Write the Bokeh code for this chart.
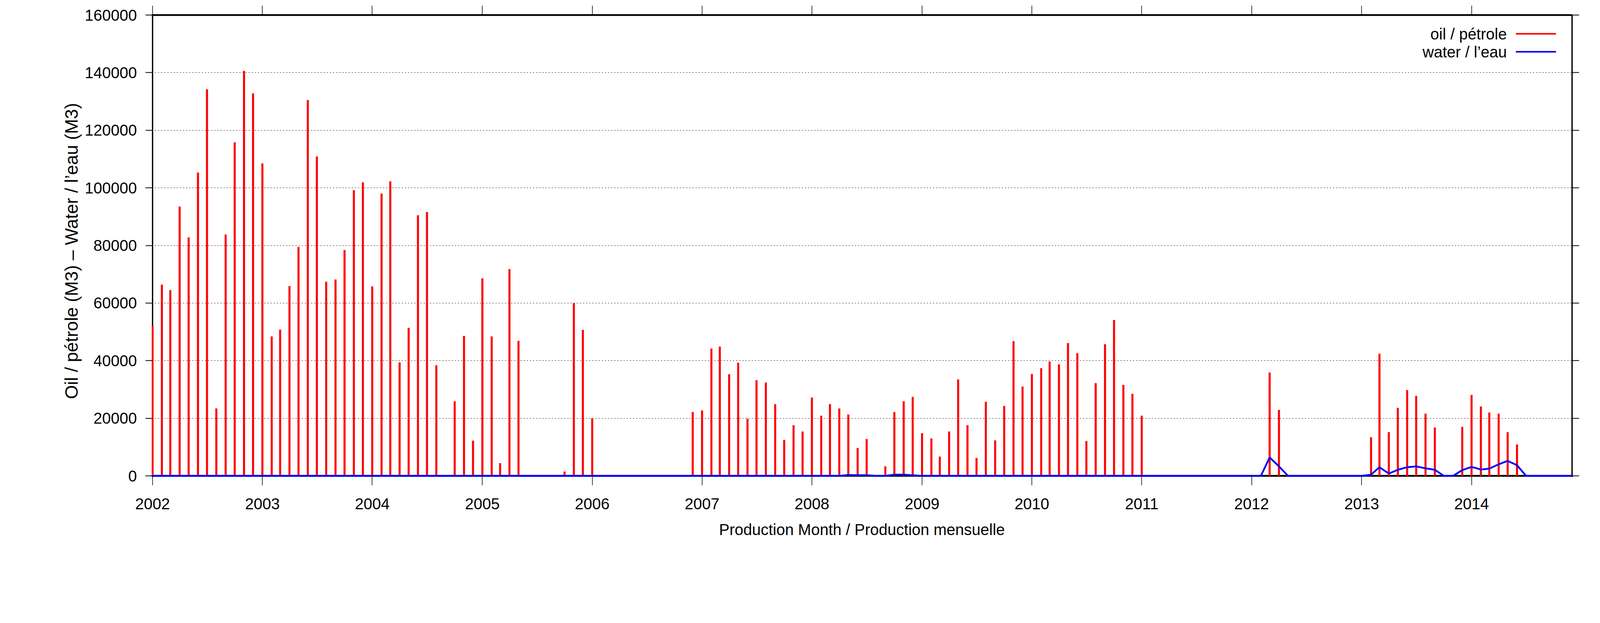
from datetime import datetime
import pandas as pd
from bokeh.plotting import figure
from bokeh.models import (ColumnDataSource, Range1d, FixedTicker, DatetimeAxis, LinearAxis,
                          DatetimeTickFormatter, NumeralTickFormatter, Span, Label,
                          BoxAnnotation)
from bokeh.embed import file_html
from bokeh.resources import INLINE

# ---------------- data (monthly volumes, M3) ----------------
years = [2002, 2003, 2004, 2005, 2006, 2007, 2008, 2009, 2010, 2011, 2012, 2013, 2014]

oil_2002 = [52000, 66400, 64500, 93500, 82800, 105300, 134200, 23400, 83800, 115800, 140600, 132800]
oil_2003 = [108500, 48400, 50800, 65900, 79500, 130500, 110900, 67400, 68200, 78400, 99200, 101900]
oil_2004 = [65800, 98000, 102300, 39400, 51400, 90500, 91600, 38400, 0, 25900, 48600, 12200]
oil_2005 = [68600, 48400, 4400, 71800, 46900, 0, 0, 0, 0, 1500, 59900, 50700]
oil_2006 = [20000, 0, 0, 0, 0, 0, 0, 0, 0, 0, 0, 22200]
oil_2007 = [22700, 44200, 44900, 35300, 39300, 19800, 33200, 32400, 24900, 12500, 17600, 15400]
oil_2008 = [27200, 20900, 24900, 23400, 21300, 9700, 12800, 0, 3300, 22200, 25900, 27400]
oil_2009 = [14800, 13000, 6700, 15400, 33500, 17600, 6200, 25700, 12300, 24300, 46800, 31000]
oil_2010 = [35400, 37400, 39700, 38700, 46100, 42600, 12100, 32200, 45700, 54100, 31600, 28500]
oil_2011 = [20900, 0, 0, 0, 0, 0, 0, 0, 0, 0, 0, 0]
oil_2012 = [0, 0, 35900, 22900, 0, 0, 0, 0, 0, 0, 0, 0]
oil_2013 = [0, 13400, 42400, 15200, 23600, 29800, 27800, 21600, 16800, 0, 0, 17000]
oil_2014 = [28100, 24100, 22000, 21600, 15200, 10900, 0, 0, 0, 0, 0, 0]

water_2002 = [0, 0, 0, 0, 0, 0, 0, 0, 0, 0, 0, 0]
water_2003 = [0, 0, 0, 0, 0, 0, 0, 0, 0, 0, 0, 0]
water_2004 = [0, 0, 0, 0, 0, 0, 0, 0, 0, 0, 0, 0]
water_2005 = [0, 0, 0, 0, 0, 0, 0, 0, 0, 0, 0, 0]
water_2006 = [0, 0, 0, 0, 0, 0, 0, 0, 0, 0, 0, 0]
water_2007 = [0, 0, 0, 0, 0, 0, 0, 0, 0, 0, 0, 0]
water_2008 = [0, 0, 0, 0, 300, 250, 250, 0, 0, 400, 400, 200]
water_2009 = [0, 0, 0, 0, 0, 0, 0, 0, 0, 0, 0, 0]
water_2010 = [0, 0, 0, 0, 0, 0, 0, 0, 0, 0, 0, 0]
water_2011 = [0, 0, 0, 0, 0, 0, 0, 0, 0, 0, 0, 0]
water_2012 = [0, 0, 6400, 3300, 0, 0, 0, 0, 0, 0, 0, 0]
water_2013 = [0, 400, 3000, 800, 2100, 3000, 3300, 2600, 2100, 0, 0, 2000]
water_2014 = [3100, 2200, 2500, 4000, 5200, 3700, 0, 0, 0, 0, 0, 0]

y_ticks = [0, 20000, 40000, 60000, 80000, 100000, 120000, 140000, 160000]
oil_label = "oil / pétrole"
water_label = "water / l’eau"
x_title = "Production Month / Production mensuelle"
y_title = "Oil / pétrole (M3)  –  Water / l’eau (M3)"

# ---------------- assemble ----------------
oil_all = (oil_2002 + oil_2003 + oil_2004 + oil_2005 + oil_2006 + oil_2007 + oil_2008 +
           oil_2009 + oil_2010 + oil_2011 + oil_2012 + oil_2013 + oil_2014)
water_all = (water_2002 + water_2003 + water_2004 + water_2005 + water_2006 + water_2007 +
             water_2008 + water_2009 + water_2010 + water_2011 + water_2012 + water_2013 +
             water_2014)
months = pd.date_range(f"{years[0]}-01-01", periods=len(oil_all), freq="MS")

src = ColumnDataSource(dict(month=months, zero=[0] * len(months), oil=oil_all, water=water_all))

FONT = "Liberation Sans"
FS_S = "40px"
FS = "46px"

# frame with a little slack on the left / bottom so border lines are not clipped
x_start0 = pd.Timestamp("2002-01-01")
x_end = pd.Timestamp("2014-12-01")
x_start = x_start0 - (x_end - x_start0) * (2 / 3634)

p = figure(width=4093, height=1570, x_axis_type="datetime",
           x_range=Range1d(x_start.to_pydatetime(), x_end.to_pydatetime()),
           y_range=Range1d(-407, 160000),
           output_backend="svg", toolbar_location=None,
           min_border_left=388, min_border_right=69, min_border_top=38, min_border_bottom=350)
p.outline_line_color = None
p.background_fill_color = "white"

x_ticker = FixedTicker(ticks=[pd.Timestamp(f"{y}-01-01").value // 10**6 for y in years])
y_ticker = FixedTicker(ticks=y_ticks)
x_fmt = DatetimeTickFormatter(years="%Y", months="%Y", days="%Y", hours="%Y", minutes="%Y",
                              seconds="%Y", milliseconds="%Y", microseconds="%Y")

def style(ax, tick_len, tick_w, line_w):
    ax.major_tick_out = tick_len
    ax.major_tick_in = 0
    ax.minor_tick_line_color = None
    ax.major_tick_line_width = tick_w
    ax.major_tick_line_color = "black"
    ax.axis_line_width = line_w
    ax.axis_line_color = "black"
    ax.major_label_text_font = FONT
    ax.major_label_text_font_size = FS_S
    ax.major_label_text_color = "black"
    ax.axis_label_text_font = FONT
    ax.axis_label_text_font_size = FS_S
    ax.axis_label_text_font_style = "normal"
    ax.axis_label_text_color = "black"

def hide_labels(ax):
    ax.major_label_text_color = None
    ax.major_label_text_font_size = "0px"
    ax.major_label_standoff = 0

left = p.yaxis[0]
bottom = p.xaxis[0]
style(left, 16, 2, 3.4)
style(bottom, 21, 1.5, 4.5)
left.ticker = y_ticker
left.formatter = NumeralTickFormatter(format="0")
left.axis_line_color = None
left.major_tick_in = 2
left.major_label_standoff = 22
left.axis_label = y_title
left.axis_label_text_font_size = FS
left.axis_label_standoff = 5

bottom.ticker = x_ticker
bottom.formatter = x_fmt
bottom.axis_line_color = None
bottom.major_tick_in = 3
bottom.major_label_standoff = 33
bottom.axis_label = x_title
bottom.axis_label_standoff = 27

top = DatetimeAxis(ticker=x_ticker, formatter=x_fmt)
style(top, 24, 1.5, 4.5)
hide_labels(top)
p.add_layout(top, "above")

right = LinearAxis(ticker=y_ticker, formatter=NumeralTickFormatter(format="0"))
style(right, 18, 2, 3.4)
hide_labels(right)
p.add_layout(right, "right")

p.xgrid.visible = False
p.ygrid.ticker = y_ticker
p.ygrid.grid_line_color = "black"
p.ygrid.grid_line_width = 1
p.ygrid.grid_line_dash = "3 5"

# left and bottom border, beneath the data (bars and the water line paint over it)
p.add_layout(Span(location=0, dimension="width", line_color="black", line_width=4.5,
                  level="underlay"))
p.add_layout(Span(location=x_start0.to_pydatetime(), dimension="height", line_color="black",
                  line_width=3.4, level="underlay"))

# oil: impulses
p.segment(x0="month", y0="zero", x1="month", y1="oil", source=src,
          line_color="#ff0000", line_width=5.25, line_cap="butt")
# water: line
p.line(x="month", y="water", source=src, line_color="#0000ff", line_width=4.5)

# legend: right-aligned text with the line sample on its right (frame-relative screen px)
LX_TEXT, LX0, LX1 = 3469, 3492, 3595
for txt, col, yy in [(oil_label, "#ff0000", 1134), (water_label, "#0000ff", 1088)]:
    p.add_layout(Label(x=LX_TEXT, y=yy, x_units="screen", y_units="screen", text=txt,
                       text_align="right", text_baseline="middle", text_font=FONT,
                       text_font_size=FS_S, text_color="black"))
    p.add_layout(BoxAnnotation(left=LX0, right=LX1, bottom=yy - 2, top=yy + 2,
                               left_units="screen", right_units="screen",
                               bottom_units="screen", top_units="screen",
                               fill_color=col, fill_alpha=1, line_color=None))

open("out.html", "w").write(file_html(p, INLINE))
